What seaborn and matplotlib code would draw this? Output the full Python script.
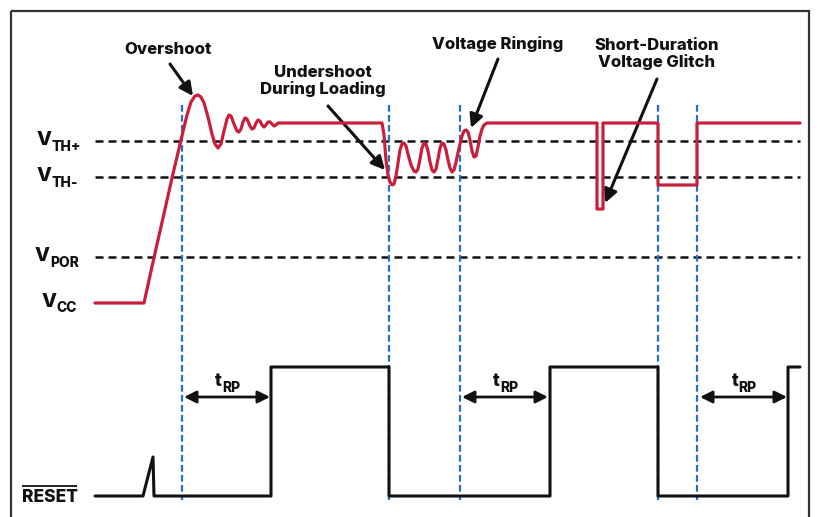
import numpy as np
import pandas as pd
import matplotlib
matplotlib.use("Agg")
import matplotlib.pyplot as plt
import seaborn as sns
from matplotlib.patches import Rectangle

# ---------------- data (schematic units: time -> x, level -> y, screen-like) -------------
vcc_time = [95, 144, 153, 163, 172, 181, 187, 191, 195, 198, 201, 204, 208, 212, 215, 218,
            221, 224, 227, 229, 231, 234, 237, 239, 241, 243, 245, 247, 250, 252, 254, 256,
            258, 260, 262, 264, 266, 268, 270, 272, 274, 276, 278, 382,
            384, 386, 388, 390, 392, 394, 396, 398, 400, 402, 404, 406, 408, 411, 414, 416,
            418, 420, 422, 424, 426, 428, 430, 432, 434, 436, 438, 440, 442, 444, 446, 448,
            450, 452, 454, 456, 459, 462, 464, 466, 468, 470, 472, 474, 476, 478, 480, 482,
            484, 487, 490, 597, 597, 603, 603, 658, 658, 697, 697, 800]
vcc_level = [303, 303, 262, 218, 178, 140, 115, 102, 96, 95, 97, 103, 117, 134, 144, 148,
             144, 131, 119, 115, 116, 124, 131, 132, 129, 122, 118, 119, 126, 129, 128, 123,
             120, 121, 125, 127, 125, 122, 122, 124, 126, 125, 123, 123,
             135, 160, 175, 182, 185, 184, 176, 163, 150, 144, 143, 146, 154, 165, 171, 172,
             169, 159, 148, 143, 144, 151, 162, 170, 172, 169, 159, 148, 143, 144, 150, 160,
             168, 172, 170, 162, 148, 136, 131, 130, 132, 140, 151, 157, 156, 147, 136, 129,
             125, 123, 123, 123, 209, 209, 123, 123, 185, 185, 123, 123]

reset_time = [95, 143, 153, 154, 271, 271, 389, 389, 550, 550, 658, 658, 788, 788, 800]
reset_level = [496, 496, 457, 496, 496, 367, 367, 496, 496, 367, 367, 496, 496, 367, 367]

threshold_names = ["TH+", "TH-", "POR"]
threshold_levels = [141, 177, 257]
vcc_start_level = 303

event_times = [182, 389, 460, 658, 697]          # blue dashed markers
trp_starts = [184, 462, 700]
trp_ends = [270, 548, 787]

annotations = ["Overshoot", "Undershoot\nDuring Loading", "Voltage Ringing",
               "Short-Duration\nVoltage Glitch"]
annot_text_xy = [(168, 50), (323, 81), (498, 44), (657, 54)]
annot_tail_xy = [(170, 64), (328, 106), (498, 59), (657, 79)]
annot_tip_xy = [(193, 96), (385, 170), (471, 128), (605, 203)]

# ---------------- styling ----------------
sns.set_theme(style="white")
plt.rcParams["font.family"] = ["Inter", "DejaVu Sans"]
W = "heavy"

RED = "#c8203c"
BLUE = "#2470c8"
BLACK = "#111111"

fig = plt.figure(figsize=(8.17, 5.17), dpi=100)
ax = fig.add_axes([0, 0, 1, 1])

# frame
ax.add_patch(Rectangle((11, 11), 798, 520, fill=False, lw=1.6, ec="#333333", zorder=1))

# threshold dashed lines
ax.hlines(threshold_levels, 95, 800, colors=BLACK, lw=1.8,
          linestyles=[(0, (3.2, 2.0))], zorder=2)

# blue event markers
ax.vlines(event_times, 105, 500, colors=BLUE, lw=1.6,
          linestyles=[(0, (3.0, 1.5))], zorder=2)

# traces via seaborn
vcc_df = pd.DataFrame({"time": vcc_time, "level": vcc_level})
reset_df = pd.DataFrame({"time": reset_time, "level": reset_level})
sns.lineplot(data=vcc_df, x="time", y="level", sort=False, estimator=None,
             color=RED, lw=2.3, ax=ax, zorder=4)
sns.lineplot(data=reset_df, x="time", y="level", sort=False, estimator=None,
             color=BLACK, lw=2.2, ax=ax, zorder=4)
ax.set_xlim(0, 817)
ax.set_ylim(517, 0)
ax.axis("off")

# left labels
label_x = [52, 52, 50]
for name, lvl, x0 in zip(threshold_names, threshold_levels, label_x):
    ax.text(x0, lvl - 1, "V", ha="right", va="center", fontsize=14, fontweight=W,
            color=BLACK)
    ax.text(x0, lvl + 6, name, ha="left", va="center", fontsize=10, fontweight=W,
            color=BLACK)
ax.text(57, vcc_start_level - 1, "V", ha="right", va="center", fontsize=14,
        fontweight=W, color=BLACK)
ax.text(57, vcc_start_level + 5, "CC", ha="left", va="center", fontsize=10,
        fontweight=W, color=BLACK)

ax.text(50, 497, "RESET", ha="center", va="center", fontsize=12.5, fontweight=W,
        color=BLACK)
ax.hlines(486, 22, 77, colors=BLACK, lw=1.3)

# tRP arrows
for s, e in zip(trp_starts, trp_ends):
    ax.annotate("", xy=(e, 397), xytext=(s, 397),
                arrowprops=dict(arrowstyle="<|-|>", color=BLACK, lw=2.0,
                                mutation_scale=18, shrinkA=0, shrinkB=0))
    xm = (s + e) / 2 - 5
    ax.text(xm, 382, "t", ha="right", va="center", fontsize=13, fontweight=W,
            color=BLACK)
    ax.text(xm, 388, "RP", ha="left", va="center", fontsize=10, fontweight=W,
            color=BLACK)

# callouts
for txt, txy, tail, tip in zip(annotations, annot_text_xy, annot_tail_xy, annot_tip_xy):
    ax.text(txy[0], txy[1], txt, ha="center", va="center", fontsize=12,
            fontweight=W, linespacing=1.1, color=BLACK)
    ax.annotate("", xy=tip, xytext=tail,
                arrowprops=dict(arrowstyle="-|>", color=BLACK, lw=2.2,
                                mutation_scale=20, shrinkA=0, shrinkB=0))

fig.savefig("out.png", dpi=100, facecolor="white")
